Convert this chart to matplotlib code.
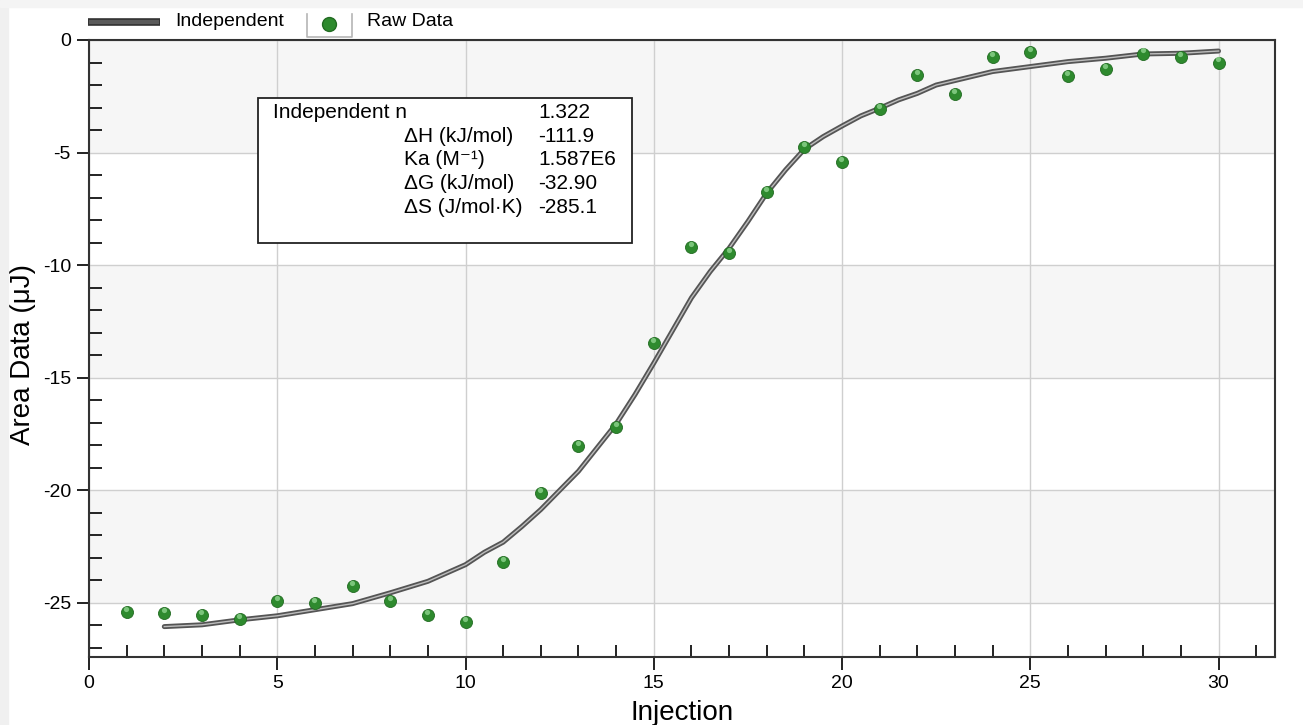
import matplotlib
matplotlib.use("Agg")
import matplotlib.pyplot as plt
import matplotlib.transforms as mtransforms
from matplotlib.lines import Line2D
from matplotlib.patches import Rectangle
from matplotlib.ticker import MultipleLocator
import numpy as np

plt.rcParams["font.family"] = ["Liberation Sans", "DejaVu Sans"]
plt.rcParams["axes.unicode_minus"] = False

# raw injection heats (uJ)
injection = np.arange(1, 31)
raw_area = [-25.4, -25.45, -25.55, -25.7, -24.9, -25.0, -24.25, -24.9, -25.55, -25.85,
            -23.2, -20.1, -18.05, -17.2, -13.45, -9.2, -9.45, -6.75, -4.75, -5.4,
            -3.05, -1.55, -2.4, -0.75, -0.55, -1.6, -1.3, -0.6, -0.75, -1.0]

# independent-site fit
fit_x = [2, 3, 4, 5, 6, 7, 8, 9, 10, 10.5, 11, 11.5, 12, 12.5, 13, 13.5, 14, 14.5,
         15, 15.5, 16, 16.5, 17, 17.5, 18, 18.5, 19, 19.5, 20, 20.5, 21, 21.5, 22,
         22.5, 23, 23.5, 24, 25, 26, 27, 28, 29, 30]
fit_y = [-26.05, -25.97, -25.75, -25.57, -25.3, -25.03, -24.55, -24.04, -23.3, -22.75,
         -22.3, -21.6, -20.85, -20.0, -19.15, -18.1, -17.05, -15.75, -14.35, -12.9,
         -11.45, -10.28, -9.25, -8.06, -6.8, -5.77, -4.85, -4.29, -3.82, -3.37, -3.03,
         -2.66, -2.37, -2.0, -1.8, -1.6, -1.4, -1.18, -0.96, -0.81, -0.62, -0.59, -0.49]

param_names = ["\u0394H (kJ/mol)", "Ka (M\u207b\u00b9)", "\u0394G (kJ/mol)", "\u0394S (J/mol\u00b7K)"]
param_values = ["-111.9", "1.587E6", "-32.90", "-285.1"]
n_value = "1.322"

W, H = 1303, 725
fig = plt.figure(figsize=(W / 100, H / 100), dpi=100)
ax = fig.add_axes([89 / W, 1 - 657 / H, 1186 / W, 617 / H])

# faint frame strips of the original screenshot
fig.patches.append(Rectangle((0, 0), 8 / W, 1, transform=fig.transFigure,
                             color="#f0f0f0", zorder=0))
fig.patches.append(Rectangle((0, 1 - 7 / H), 1, 7 / H, transform=fig.transFigure,
                             color="#f4f4f4", zorder=0))

ax.set_xlim(0, 31.5)
ax.set_ylim(-27.4, 0)

# alternating horizontal bands
for top in range(0, -26, -10):
    ax.axhspan(top - 5, top, color="#f6f6f6", zorder=0, lw=0)

ax.xaxis.set_major_locator(MultipleLocator(5))
ax.xaxis.set_minor_locator(MultipleLocator(1))
ax.yaxis.set_major_locator(MultipleLocator(5))
ax.yaxis.set_minor_locator(MultipleLocator(1))
ax.grid(which="major", color="#cfcfcf", lw=1.0, zorder=1)
ax.tick_params(which="major", direction="out", length=9, width=1.4, color="#222",
               labelsize=14, pad=4)
ax.tick_params(which="minor", direction="in", length=9, width=1.4, color="#222")
for s in ax.spines.values():
    s.set_color("#333")
    s.set_linewidth(1.5)

# fit line: dark outline with light core
ax.plot(fit_x, fit_y, color="#555555", lw=3.6, solid_capstyle="round", zorder=3)
ax.plot(fit_x, fit_y, color="#bdbdbd", lw=1.0, zorder=4)

# shaded green spheres
ax.scatter(injection, raw_area, s=75, color="#2e8a2e", edgecolor="#226b22",
           lw=0.6, zorder=5)
hi = mtransforms.offset_copy(ax.transData, fig=fig, x=-0.4, y=2.2, units="points")
ax.scatter(injection, raw_area, s=14, color="#8fd58f", lw=0, alpha=0.8,
           transform=hi, zorder=6)

ax.set_xlabel("Injection", fontsize=20, labelpad=6)
ax.set_ylabel("Area Data (\u03bcJ)", fontsize=20, va="center")
ax.yaxis.set_label_coords(-0.0555, 0.49)

# parameter box
ax.add_patch(Rectangle((0.1425, 0.671), 0.3155, 0.235, transform=ax.transAxes,
                       facecolor="white", edgecolor="#222", lw=1.3, zorder=7))
rows_y = [0.883, 0.843, 0.806, 0.768, 0.729]
ax.text(0.155, rows_y[0], "Independent n", transform=ax.transAxes, fontsize=15,
        va="center", zorder=8)
ax.text(0.3786, rows_y[0], n_value, transform=ax.transAxes, fontsize=15,
        va="center", zorder=8)
for y, name, val in zip(rows_y[1:], param_names, param_values):
    ax.text(0.2656, y, name, transform=ax.transAxes, fontsize=15, va="center", zorder=8)
    ax.text(0.3786, y, val, transform=ax.transAxes, fontsize=15, va="center", zorder=8)

# legend strip above the plot, drawn by hand
tf = fig.transFigure
fig.add_artist(Line2D([88 / W, 160 / W], [1 - 22 / H] * 2, transform=tf,
                      color="#333", lw=5.5, solid_capstyle="butt"))
fig.add_artist(Line2D([89 / W, 159 / W], [1 - 22 / H] * 2, transform=tf,
                      color="#5a5a5a", lw=3, solid_capstyle="butt"))
fig.text(175 / W, 1 - 22 / H, "Independent", fontsize=14, va="center")
fig.add_artist(Line2D([307 / W, 307 / W, 352 / W, 352 / W],
                      [1 - 14 / H, 1 - 37 / H, 1 - 37 / H, 1 - 14 / H],
                      transform=tf, color="#b5b5b5", lw=1.2))
fig.add_artist(Line2D([329 / W], [1 - 24 / H], transform=tf, ls="", marker="o",
                      markersize=10, color="#2e8a2e", markeredgecolor="#226b22"))
fig.text(367 / W, 1 - 22 / H, "Raw Data", fontsize=14, va="center")

fig.savefig("out.png", dpi=100)
